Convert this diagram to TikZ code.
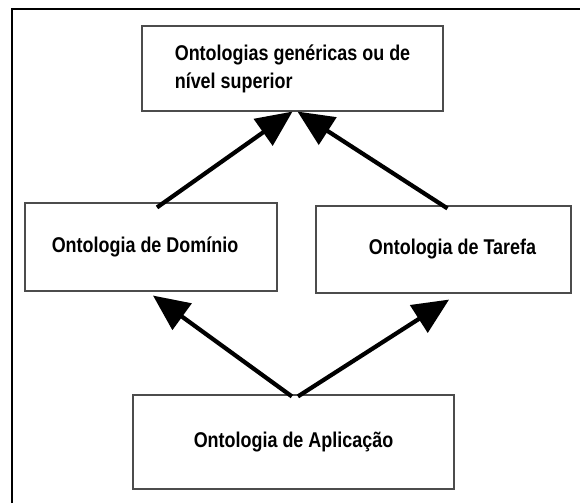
\documentclass[tikz,border=0pt]{standalone}
\usepackage{fontspec}
\setmainfont{Liberation Sans}[FakeStretch=0.84]
\usetikzlibrary{%
  arrows.meta,%
  positioning%
}

\begin{document}
\begin{tikzpicture}[
  font=\fontsize{15.2}{20}\selectfont\bfseries,
  >={Triangle[length=0.9cm,width=0.8cm]},
  line width=3pt,
  onto/.style={draw=black!70,line width=0.8pt,inner sep=0pt,align=center},
]
\useasboundingbox (0,0) rectangle (14.5,12.575);

% frame
\draw [line width=1.6pt] (0.3,0) -- (0.3,12.35) -- (14.5,12.35);

\node[onto,minimum width=7.525cm,minimum height=2.125cm,align=left] (gen) at (7.3125,10.8625) {Ontologias genéricas ou de\\nível superior};
\node[onto,minimum width=6.3cm,minimum height=2.2cm] (dom) at (3.775,6.4) {Ontologia de Domínio\hspace{0.3cm}};
\node[onto,minimum width=6.375cm,minimum height=2.175cm] (tar) at (11.0875,6.3375) {\hspace{0.45cm}Ontologia de Tarefa};
\node[onto,minimum width=8.025cm,minimum height=2.35cm] (app) at (7.3375,1.525) {Ontologia de Aplicação};

\draw [->] ([xshift=0.15cm,yshift=-0.125cm]dom.north) -- (gen.south);
\draw [->] ([xshift=0.1cm,yshift=-0.075cm]tar.north) -- ([xshift=0.125cm]gen.south);
\draw [->] ([xshift=-0.04cm,yshift=-0.05cm]app.north) -- ([xshift=0.05cm,yshift=-0.1cm]dom.south);
\draw [->] ([xshift=0.11cm,yshift=-0.05cm]app.north) -- ([xshift=0.14cm,yshift=-0.15cm]tar.south);
\end{tikzpicture}
\end{document}
